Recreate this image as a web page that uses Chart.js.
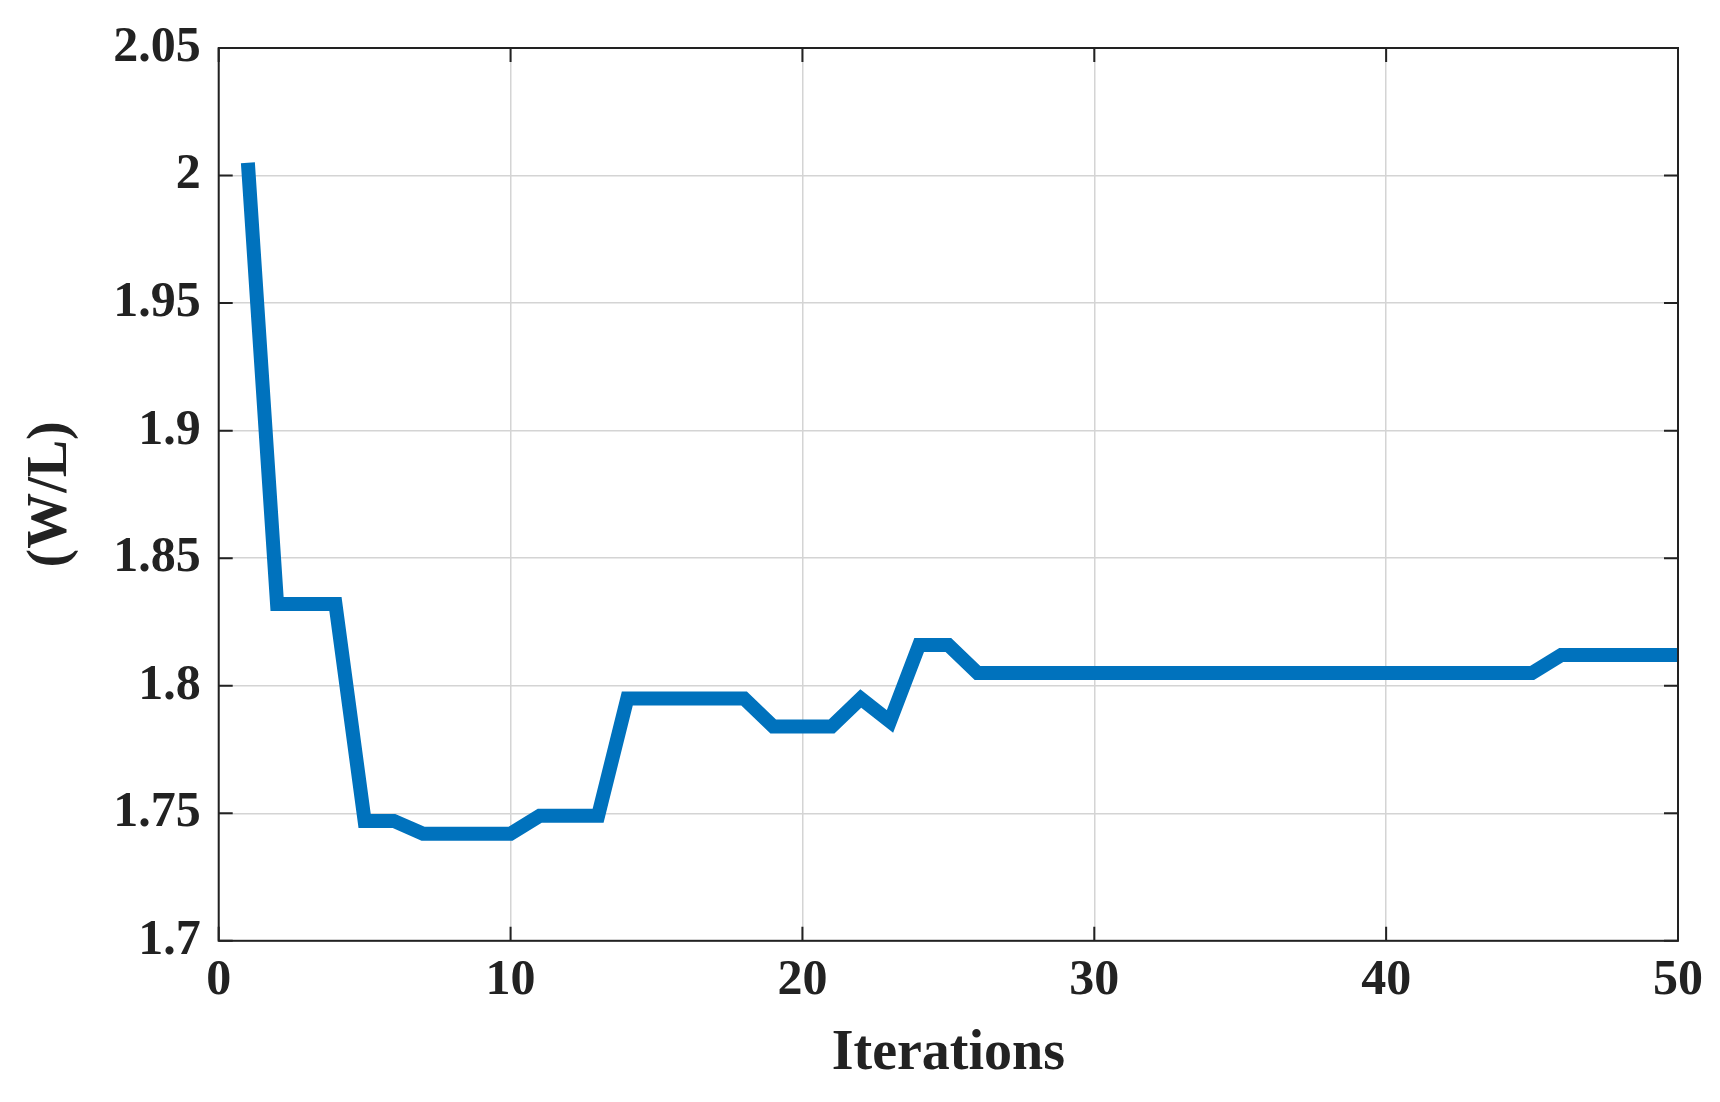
<!DOCTYPE html>
<html><head><meta charset="utf-8">
<script src="https://cdn.jsdelivr.net/npm/chart.js@4/dist/chart.umd.min.js"></script>
<style>html,body{margin:0;background:#fff}#w{width:1720px;height:1102px}</style>
</head><body><div id="w"><canvas id="c"></canvas></div>
<script>
const iterations = [1,2,3,4,5,6,7,8,9,10,11,12,13,14,15,16,17,18,19,20,21,22,23,24,25,26,27,28,29,30,31,32,33,34,35,36,37,38,39,40,41,42,43,44,45,46,47,48,49,50];
const wl = [2.005,1.832,1.832,1.832,1.747,1.747,1.742,1.742,1.742,1.742,1.749,1.749,1.749,1.795,1.795,1.795,1.795,1.795,1.784,1.784,1.784,1.795,1.786,1.816,1.816,
1.805,1.805,1.805,1.805,1.805,1.805,1.805,1.805,1.805,1.805,1.805,1.805,1.805,1.805,1.805,1.805,1.805,1.805,1.805,1.805,1.812,1.812,1.812,1.812,1.812];
const xTitle = "Iterations", yTitle = "(W/L)";
const font = "'Liberation Serif', 'Times New Roman', serif";
const frame = {id:'frame', afterDraw(ch){
  const a=ch.chartArea, g=ch.ctx; g.save(); g.strokeStyle='#222'; g.lineWidth=2;
  g.strokeRect(a.left,a.top,a.right-a.left,a.bottom-a.top);
  const L=14;
  ch.scales.x.ticks.forEach(t=>{const p=ch.scales.x.getPixelForValue(t.value);
    g.beginPath();g.moveTo(p,a.bottom);g.lineTo(p,a.bottom-L);g.moveTo(p,a.top);g.lineTo(p,a.top+L);g.stroke();});
  ch.scales.y.ticks.forEach(t=>{const p=ch.scales.y.getPixelForValue(t.value);
    g.beginPath();g.moveTo(a.left,p);g.lineTo(a.left+L,p);g.moveTo(a.right,p);g.lineTo(a.right-L,p);g.stroke();});
  g.restore();}};
new Chart(document.getElementById('c'),{
  type:'line',
  data:{datasets:[{data:iterations.map((x,i)=>({x,y:wl[i]})),borderColor:'#0072BD',borderWidth:14,pointRadius:0,tension:0,borderJoinStyle:'miter'}]},
  options:{responsive:true,maintainAspectRatio:false,animation:false,
    layout:{padding:{top:41,right:42,left:14,bottom:10}},
    plugins:{legend:{display:false},tooltip:{enabled:false}},
    scales:{
      x:{type:'linear',min:0,max:50,ticks:{stepSize:10,color:'#222',font:{family:font,size:50,weight:'bold'},padding:10},
        grid:{color:'#d4d4d4',lineWidth:1.5,drawTicks:false},border:{display:false},
        title:{display:true,text:xTitle,color:'#222',font:{family:font,size:56,weight:'bold'},padding:{top:0}}},
      y:{min:1.7,max:2.05,ticks:{stepSize:0.05,color:'#222',font:{family:font,size:50,weight:'bold'},padding:18,
          callback:v=>String(Math.round(v*100)/100)},
        grid:{color:'#d4d4d4',lineWidth:1.5,drawTicks:false},border:{display:false},
        title:{display:true,text:yTitle,color:'#222',font:{family:font,size:56,weight:'bold'},padding:{bottom:10}}}
    }},
  plugins:[frame]
});
</script></body></html>
